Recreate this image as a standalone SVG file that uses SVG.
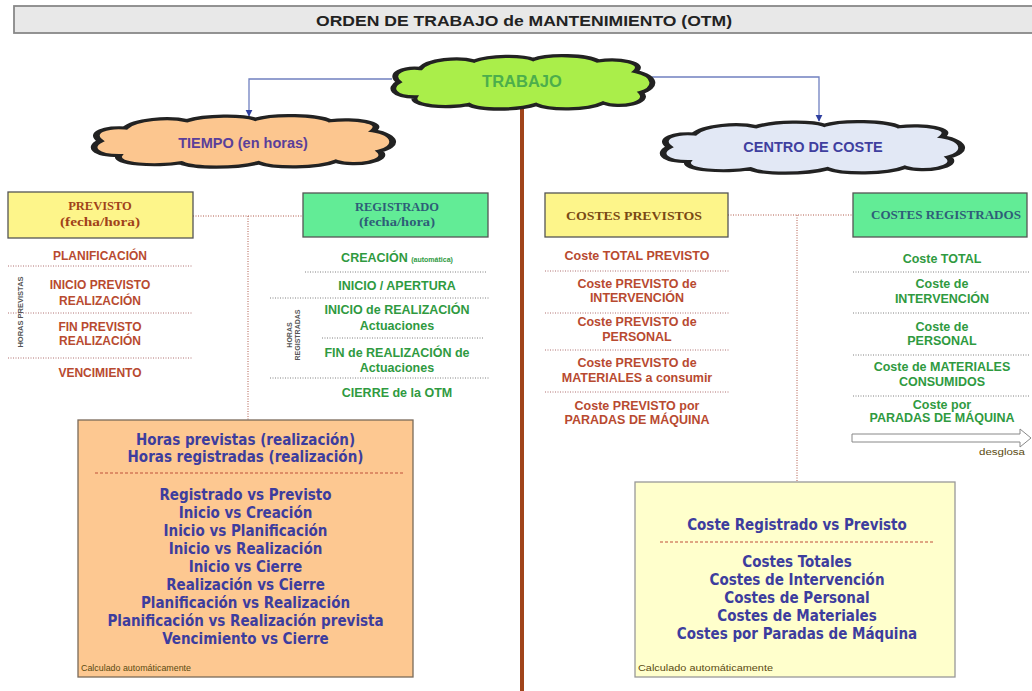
<svg xmlns="http://www.w3.org/2000/svg" width="1032" height="691" viewBox="0 0 1032 691">
<style>
.sans{font-family:"Liberation Sans",Arial,sans-serif;font-weight:bold}
.serif{font-family:"Liberation Serif","Times New Roman",serif;font-weight:bold}
.tah{font-family:"DejaVu Sans Condensed","DejaVu Sans",sans-serif;font-weight:bold}
.mid{text-anchor:middle}
.prev{fill:#b84a30;font-size:12px}
.reg{fill:#2f9a3f;font-size:12.5px}
.cprev{fill:#b84a30;font-size:12.5px}
.creg{fill:#2f9a3f;font-size:12.5px}
.sepr{stroke:#b07070;stroke-width:1;stroke-dasharray:1,1.5;fill:none}
.sepg{stroke:#808080;stroke-width:1;stroke-dasharray:1,1.5;fill:none}
.dot{stroke:#b05a4a;stroke-width:1;stroke-dasharray:1,1.5;fill:none}
.dash{stroke:#c0503a;stroke-width:1.2;stroke-dasharray:3,2;fill:none}
.blue{stroke:#7080c0;stroke-width:1.3;fill:none}
.cloud{stroke:#222;stroke-width:2.2;vector-effect:non-scaling-stroke}
.box{stroke:#555;stroke-width:1.3}
.res{fill:#3d3d9e;font-size:15px}
.small{font-family:"Liberation Sans",Arial,sans-serif;fill:#5a4a10;font-size:8.5px}
</style>
<defs>
<path id="cloudShape" d="M4,20 C0,14 6,10 12,11 C15,5 26,3 32,6 C38,2 50,2 54,5 C60,1 74,2 78,6 C86,4 96,7 92,13 C100,16 100,24 94,27 C98,34 86,38 80,34 C74,39 60,39 55,35 C48,39 34,39 30,35 C22,38 8,36 10,30 C2,30 0,24 4,20 Z"/>
<marker id="arr" viewBox="0 0 10 10" refX="9" refY="5" markerWidth="7" markerHeight="9" orient="auto" markerUnits="userSpaceOnUse">
<path d="M0,0 L10,5 L0,10 Z" fill="#3040a0"/>
</marker>
</defs>
<rect width="1032" height="691" fill="#ffffff"/>

<g id="title">
<rect x="14" y="6" width="1030" height="27" fill="#e8e8e8" stroke="#888" stroke-width="1.8"/>
<text x="524" y="26" class="sans mid" font-size="15.5" fill="#222" textLength="416" lengthAdjust="spacingAndGlyphs">ORDEN DE TRABAJO de MANTENIMIENTO (OTM)</text>
</g>

<g id="connectors">
<line x1="522" y1="108" x2="522" y2="691" stroke="#a0441a" stroke-width="4"/>
<path class="blue" d="M392,79 H249 V116" marker-end="url(#arr)"/>
<path class="blue" d="M652,77 H819 V121" marker-end="url(#arr)"/>
<path class="dot" d="M193,216 H303 M248,216 V420"/>
<path class="dot" d="M728,215 H853 M797,215 V482"/>
</g>

<g id="trabajo">
<use href="#cloudShape" class="cloud" fill="#aaee4a" transform="translate(388,52) scale(2.69,1.5)"/>
<text x="522" y="87" class="sans mid" font-size="16.5" fill="#4cae4c">TRABAJO</text>
</g>

<g id="tiempo">
<use href="#cloudShape" class="cloud" fill="#fcc68f" transform="translate(88,112) scale(3.1,1.45)"/>
<text x="243" y="148" class="sans mid" font-size="14.5" fill="#5a3f9a">TIEMPO (en horas)</text>
</g>

<g id="centro-coste">
<use href="#cloudShape" class="cloud" fill="#e2e8f5" transform="translate(657,118) scale(3.1,1.45)"/>
<text x="813" y="152" class="sans mid" font-size="14.5" fill="#3f3f9f">CENTRO DE COSTE</text>
</g>

<g id="previsto">
<rect x="8" y="192" width="185" height="46" fill="#fdf58a" class="box"/>
<text x="100" y="210" class="serif mid" font-size="12.5" fill="#a0421a">PREVISTO</text>
<text x="100" y="226" class="serif mid" font-size="12.5" fill="#a0421a" textLength="80" lengthAdjust="spacingAndGlyphs">(fecha/hora)</text>
</g>

<g id="previsto-list">
<text x="100" y="260" class="sans mid prev">PLANIFICACIÓN</text>
<line x1="8" y1="266" x2="192" y2="266" class="sepr"/>
<text x="100" y="289" class="sans mid prev">INICIO PREVISTO</text>
<text x="100" y="305" class="sans mid prev">REALIZACIÓN</text>
<line x1="8" y1="313" x2="192" y2="313" class="sepr"/>
<text x="100" y="331" class="sans mid prev">FIN PREVISTO</text>
<text x="100" y="345" class="sans mid prev">REALIZACIÓN</text>
<line x1="8" y1="358" x2="192" y2="358" class="sepr"/>
<text x="100" y="377" class="sans mid prev">VENCIMIENTO</text>
<text transform="translate(23,312) rotate(-90)" class="sans mid" font-size="7.5" fill="#555">HORAS PREVISTAS</text>
</g>

<g id="registrado">
<rect x="303" y="193" width="185" height="44" fill="#62ec96" class="box"/>
<text x="397" y="211" class="serif mid" font-size="12.5" fill="#2e5e78">REGISTRADO</text>
<text x="397" y="226" class="serif mid" font-size="12.5" fill="#2e5e78" textLength="76" lengthAdjust="spacingAndGlyphs">(fecha/hora)</text>
</g>

<g id="registrado-list">
<text x="397" y="262" class="sans mid reg">CREACIÓN <tspan font-size="7">(automática)</tspan></text>
<line x1="305" y1="272" x2="487" y2="272" class="sepg"/>
<text x="397" y="289.5" class="sans mid reg">INICIO / APERTURA</text>
<line x1="270" y1="298" x2="490" y2="298" class="sepg"/>
<text x="397" y="313.5" class="sans mid reg">INICIO de REALIZACIÓN</text>
<text x="397" y="329.5" class="sans mid reg">Actuaciones</text>
<line x1="322" y1="338" x2="483" y2="338" class="sepg"/>
<text x="397" y="356.5" class="sans mid reg">FIN de REALIZACIÓN de</text>
<text x="397" y="371.5" class="sans mid reg">Actuaciones</text>
<line x1="270" y1="378" x2="490" y2="378" class="sepg"/>
<text x="397" y="396.5" class="sans mid reg">CIERRE de la OTM</text>
<text transform="translate(292,335) rotate(-90)" class="sans mid" font-size="7" fill="#555">HORAS</text>
<text transform="translate(300,335) rotate(-90)" class="sans mid" font-size="7" fill="#555">REGISTRADAS</text>
</g>

<g id="resumen-tiempo">
<rect x="78" y="420" width="335" height="257" fill="#fdc891" stroke="#7a6a5a" stroke-width="1.3"/>
<text x="245.5" y="445" class="tah mid res">Horas previstas (realización)</text>
<text x="245.5" y="462" class="tah mid res">Horas registradas (realización)</text>
<line x1="95" y1="473" x2="403" y2="473" class="dash"/>
<text x="245.5" y="500" class="tah mid res">Registrado vs Previsto</text>
<text x="245.5" y="518" class="tah mid res">Inicio vs Creación</text>
<text x="245.5" y="536" class="tah mid res">Inicio vs Planificación</text>
<text x="245.5" y="554" class="tah mid res">Inicio vs Realización</text>
<text x="245.5" y="572" class="tah mid res">Inicio vs Cierre</text>
<text x="245.5" y="590" class="tah mid res">Realización vs Cierre</text>
<text x="245.5" y="608" class="tah mid res">Planificación vs Realización</text>
<text x="245.5" y="626" class="tah mid res">Planificación vs Realización prevista</text>
<text x="245.5" y="644" class="tah mid res">Vencimiento vs Cierre</text>
<text x="81" y="671" class="small" textLength="110" lengthAdjust="spacingAndGlyphs">Calculado automáticamente</text>
</g>

<g id="costes-previstos">
<rect x="545" y="193" width="183" height="44" fill="#fdf58a" class="box"/>
<text x="634" y="220" class="serif mid" font-size="13" fill="#7a4a14" textLength="136" lengthAdjust="spacingAndGlyphs">COSTES PREVISTOS</text>
</g>

<g id="costes-previstos-list">
<text x="637" y="260" class="sans mid cprev">Coste TOTAL PREVISTO</text>
<line x1="545" y1="271" x2="730" y2="271" class="sepr"/>
<text x="637" y="288" class="sans mid cprev">Coste PREVISTO de</text>
<text x="637" y="302" class="sans mid cprev">INTERVENCIÓN</text>
<line x1="545" y1="313" x2="730" y2="313" class="sepr"/>
<text x="637" y="326" class="sans mid cprev">Coste PREVISTO de</text>
<text x="637" y="341" class="sans mid cprev">PERSONAL</text>
<line x1="545" y1="350" x2="730" y2="350" class="sepr"/>
<text x="637" y="367" class="sans mid cprev">Coste PREVISTO de</text>
<text x="637" y="382" class="sans mid cprev">MATERIALES a consumir</text>
<line x1="545" y1="392" x2="730" y2="392" class="sepr"/>
<text x="637" y="410" class="sans mid cprev">Coste PREVISTO por</text>
<text x="637" y="424" class="sans mid cprev">PARADAS DE MÁQUINA</text>
</g>

<g id="costes-registrados">
<rect x="853" y="193" width="174" height="44" fill="#62ec96" class="box"/>
<text x="946" y="219" class="serif mid" font-size="13" fill="#2e5e78" textLength="150" lengthAdjust="spacingAndGlyphs">COSTES REGISTRADOS</text>
</g>

<g id="costes-registrados-list">
<text x="942" y="263" class="sans mid creg">Coste TOTAL</text>
<line x1="853" y1="272" x2="1030" y2="272" class="sepg"/>
<text x="942" y="288" class="sans mid creg">Coste de</text>
<text x="942" y="303" class="sans mid creg">INTERVENCIÓN</text>
<line x1="853" y1="313" x2="1030" y2="313" class="sepg"/>
<text x="942" y="331" class="sans mid creg">Coste de</text>
<text x="942" y="345" class="sans mid creg">PERSONAL</text>
<line x1="853" y1="355" x2="1030" y2="355" class="sepg"/>
<text x="942" y="371" class="sans mid creg">Coste de MATERIALES</text>
<text x="942" y="386" class="sans mid creg">CONSUMIDOS</text>
<line x1="853" y1="396" x2="1030" y2="396" class="sepg"/>
<text x="942" y="409" class="sans mid creg">Coste por</text>
<text x="942" y="422" class="sans mid creg">PARADAS DE MÁQUINA</text>
<polygon points="852,434 1020,434 1020,429 1031,438 1020,447 1020,442 852,442" fill="#ffffff" stroke="#888" stroke-width="1"/>
<text x="1025" y="455" class="small" text-anchor="end" fill="#444" font-size="9" textLength="46" lengthAdjust="spacingAndGlyphs">desglosa</text>
</g>

<g id="resumen-coste">
<rect x="635" y="482" width="320" height="195" fill="#ffffcc" stroke="#999" stroke-width="1.3"/>
<text x="797" y="530" class="tah mid res">Coste Registrado vs Previsto</text>
<line x1="660" y1="542" x2="933" y2="542" class="dash"/>
<text x="797" y="567" class="tah mid res">Costes Totales</text>
<text x="797" y="585" class="tah mid res">Costes de Intervención</text>
<text x="797" y="603" class="tah mid res">Costes de Personal</text>
<text x="797" y="621" class="tah mid res">Costes de Materiales</text>
<text x="797" y="639" class="tah mid res">Costes por Paradas de Máquina</text>
<text x="638" y="671" class="small" font-size="9.5" textLength="135" lengthAdjust="spacingAndGlyphs">Calculado automáticamente</text>
</g>
</svg>
